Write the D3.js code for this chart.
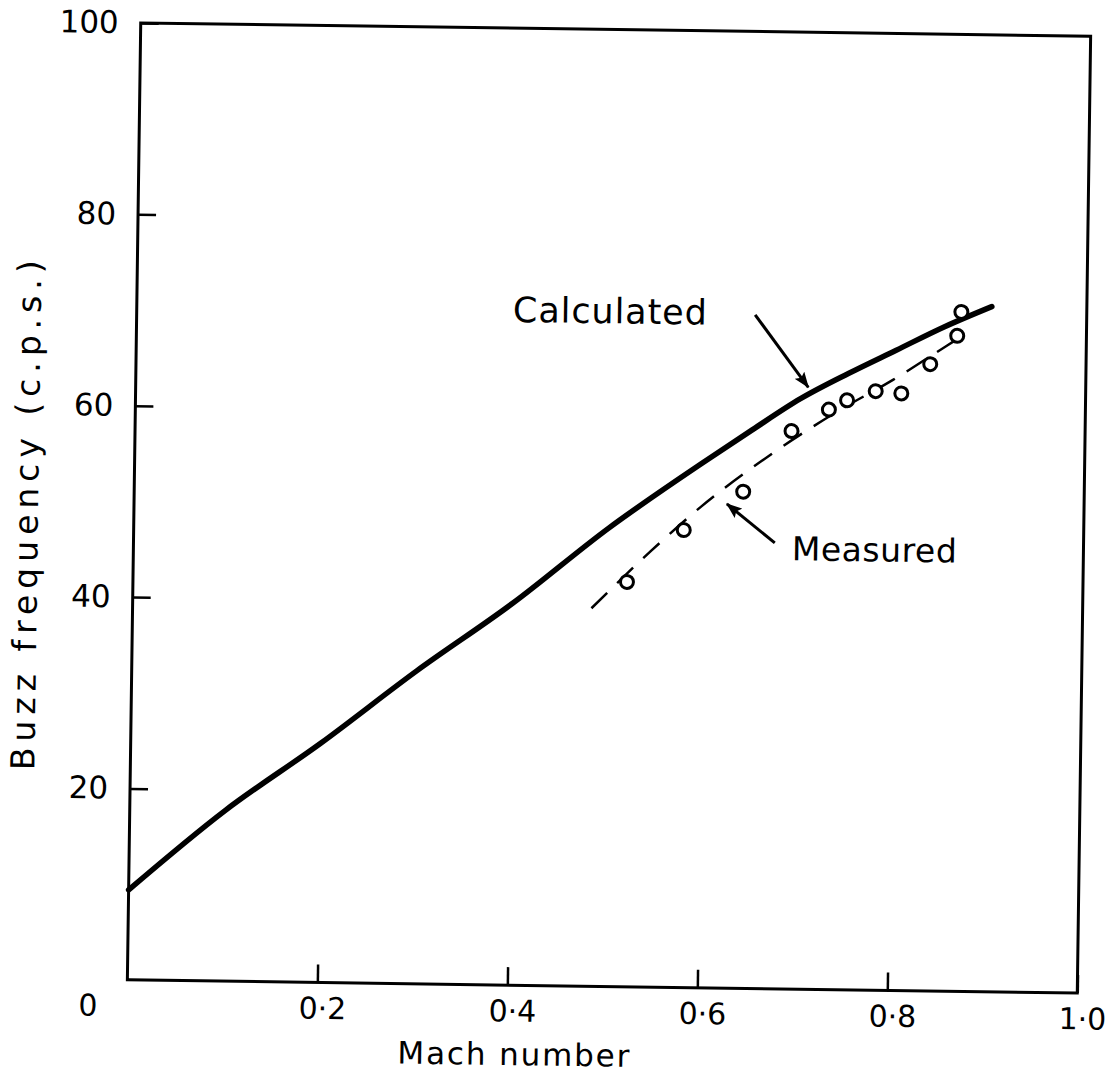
<!DOCTYPE html>
<html>
<head>
<meta charset="utf-8">
<script src="https://cdn.jsdelivr.net/npm/d3@7"></script>
<style>
  html, body { margin: 0; padding: 0; background: #fff; }
  svg { display: block; }
  text { font-family: "DejaVu Sans", sans-serif; fill: #000; }
</style>
</head>
<body>
<svg id="chart" width="1108" height="1073"></svg>
<script>
// ---- data ----
const calcMach = [0, 0.1, 0.2, 0.3, 0.4, 0.5, 0.6, 0.65, 0.7, 0.75, 0.8, 0.85, 0.9];
const calcFreq = [9.4, 17.8, 25.0, 32.7, 39.9, 47.9, 55.0, 58.4, 61.7, 64.4, 66.9, 69.4, 71.6];

const measMach = [0.520, 0.579, 0.641, 0.691, 0.730, 0.749, 0.779, 0.806, 0.836, 0.864, 0.868];
const measFreq = [42.3, 47.8, 51.9, 58.3, 60.6, 61.6, 62.6, 62.4, 65.5, 68.5, 71.0];

const fitMach = [0.483, 0.544, 0.596, 0.672, 0.742, 0.797, 0.854, 0.874];
const fitFreq = [39.5, 45.5, 50.2, 56.0, 60.6, 63.8, 67.5, 68.8];

const xTickValues = [0.2, 0.4, 0.6, 0.8, 1.0];
const xTickLabels = ["0·2", "0·4", "0·6", "0·8", "1·0"];
const yTickValues = [20, 40, 60, 80, 100];
const yTickLabels = ["20", "40", "60", "80", "100"];
const originLabel = "0";

const xTitle = "Mach number";
const yTitle = "Buzz  frequency  (c.p.s.)";

const annotCalc = { text: "Calculated", at: [0.396, 69.3], from: [0.651, 70.4], to: [0.708, 62.9] };
const annotMeas = { text: "Measured", at: [0.693, 44.8], from: [0.675, 46.6], to: [0.624, 50.6] };

// ---- layout ----
const svg = d3.select("#chart");
const x = d3.scaleLinear().domain([0, 1]).range([134, 1084]);
const y = d3.scaleLinear().domain([0, 100]).range([986.5, 29.5]);

const defs = svg.append("defs");
defs.append("marker")
  .attr("id", "arrow")
  .attr("markerUnits", "userSpaceOnUse")
  .attr("viewBox", "0 0 16 12")
  .attr("markerWidth", 16).attr("markerHeight", 12)
  .attr("refX", 15).attr("refY", 6)
  .attr("orient", "auto")
  .append("path").attr("d", "M0,0 L16,6 L0,12 L3,6 Z").attr("fill", "#000");

// slight rotation as in the scanned reference
const g = svg.append("g").attr("transform", "rotate(0.8, 609, 508)");

// frame
g.append("rect")
  .attr("x", x(0)).attr("y", y(100))
  .attr("width", x(1) - x(0)).attr("height", y(0) - y(100))
  .attr("fill", "none").attr("stroke", "#000").attr("stroke-width", 3);

// axes with inward ticks
const xAxis = d3.axisBottom(x)
  .tickValues(xTickValues)
  .tickFormat((d, i) => xTickLabels[i])
  .tickSize(-18).tickPadding(15);
const gx = g.append("g").attr("transform", `translate(0,${y(0)})`).call(xAxis);
gx.attr("font-size", null).attr("font-family", null);
gx.select(".domain").remove();
gx.selectAll(".tick line").attr("stroke", "#000").attr("stroke-width", 2.5);
gx.selectAll(".tick text").style("font-size", "30px").attr("dx", 5);

const yAxis = d3.axisLeft(y)
  .tickValues(yTickValues)
  .tickFormat((d, i) => yTickLabels[i])
  .tickSize(-18).tickPadding(22);
const gy = g.append("g").attr("transform", `translate(${x(0)},0)`).call(yAxis);
gy.attr("font-size", null).attr("font-family", null);
gy.select(".domain").remove();
gy.selectAll(".tick line").attr("stroke", "#000").attr("stroke-width", 2.5);
gy.selectAll(".tick text").style("font-size", "31px");

// origin label
g.append("text")
  .attr("x", x(0) - 39).attr("y", y(0) + 15).attr("dy", "0.71em")
  .attr("text-anchor", "middle").style("font-size", "30px")
  .text(originLabel);

// axis titles
g.append("text")
  .attr("x", x(0.4075)).attr("y", y(0) + 80)
  .attr("text-anchor", "middle").style("font-size", "31px")
  .attr("textLength", 232).attr("lengthAdjust", "spacing")
  .text(xTitle);

g.append("text")
  .attr("transform", `translate(38,${y(48.4)}) rotate(-90)`)
  .attr("text-anchor", "middle").style("font-size", "33px")
  .attr("textLength", 510).attr("lengthAdjust", "spacing")
  .text(yTitle);

// calculated line
const calcData = calcMach.map((m, i) => [m, calcFreq[i]]);
g.append("path")
  .datum(calcData)
  .attr("fill", "none").attr("stroke", "#000").attr("stroke-width", 5.5)
  .attr("stroke-linecap", "round").attr("stroke-linejoin", "round")
  .attr("d", d3.line().x(d => x(d[0])).y(d => y(d[1])).curve(d3.curveMonotoneX));

// measured fit (dashed)
const fitData = fitMach.map((m, i) => [m, fitFreq[i]]);
g.append("path")
  .datum(fitData)
  .attr("fill", "none").attr("stroke", "#000").attr("stroke-width", 2.5)
  .attr("stroke-dasharray", "22,14")
  .attr("d", d3.line().x(d => x(d[0])).y(d => y(d[1])).curve(d3.curveMonotoneX));

// measured points
const measData = measMach.map((m, i) => [m, measFreq[i]]);
g.append("g").selectAll("circle")
  .data(measData).join("circle")
  .attr("cx", d => x(d[0])).attr("cy", d => y(d[1]))
  .attr("r", 6.5)
  .attr("fill", "#fff").attr("stroke", "#000").attr("stroke-width", 3);

// annotations
[annotCalc, annotMeas].forEach((a, i) => {
  g.append("text")
    .attr("x", x(a.at[0])).attr("y", y(a.at[1]))
    .style("font-size", i === 0 ? "35px" : "33px")
    .attr("textLength", i === 0 ? 194 : 165).attr("lengthAdjust", "spacing")
    .text(a.text);
  g.append("line")
    .attr("x1", x(a.from[0])).attr("y1", y(a.from[1]))
    .attr("x2", x(a.to[0])).attr("y2", y(a.to[1]))
    .attr("stroke", "#000").attr("stroke-width", 3)
    .attr("marker-end", "url(#arrow)");
});
</script>
</body>
</html>
